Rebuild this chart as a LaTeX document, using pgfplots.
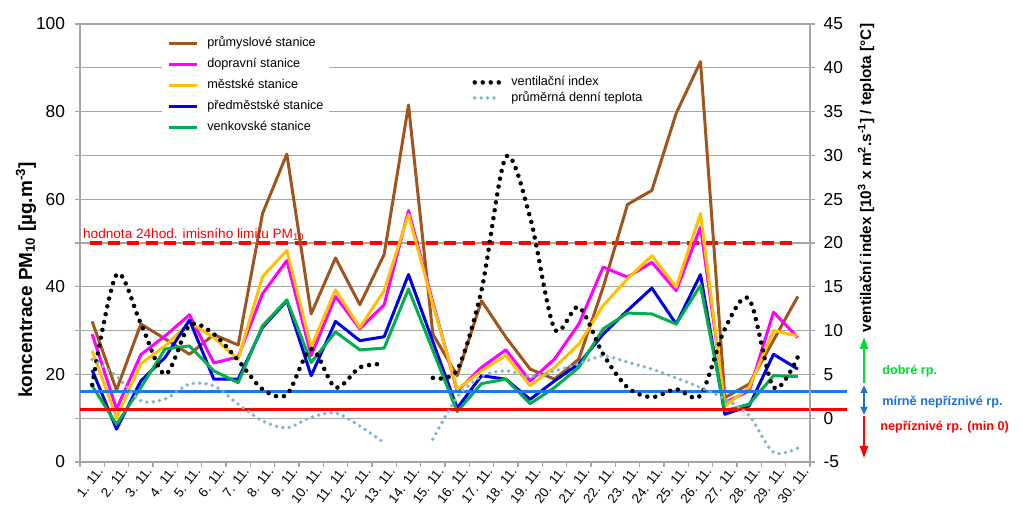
\documentclass[border=0pt]{standalone}
\usepackage{pgfplots}
\pgfplotsset{compat=1.18}
\usepackage{pgfplotstable}
\usepackage{fontspec}
\setmainfont{Liberation Sans}
\usetikzlibrary{arrows.meta}

\definecolor{cBrown}{RGB}{160,85,30}
\definecolor{cMag}{RGB}{255,0,255}
\definecolor{cYel}{RGB}{255,192,0}
\definecolor{cBlue}{RGB}{0,0,230}
\definecolor{cGreen}{RGB}{0,176,80}
\definecolor{cTemp}{RGB}{130,180,205}
\definecolor{cHBlue}{RGB}{30,120,240}
\definecolor{cGrid}{RGB}{165,165,165}
\definecolor{cArrGreen}{RGB}{0,220,50}
\definecolor{cArrBlue}{RGB}{30,110,220}

\pgfplotstableread{
day prum dop mest pred venk
1 32.1 29.2 25.4 21.0 17.4
2 16.4 12.1 10.1 7.5 8.6
3 31.5 24.5 22.4 18.5 17.0
4 28.1 28.8 26.5 23.9 25.8
5 24.6 33.6 31.9 32.4 26.5
6 29.1 22.6 28.4 18.9 20.8
7 26.7 24.0 23.5 18.9 18.1
8 56.7 38.4 42.3 30.7 31.1
9 70.3 46.0 48.3 36.8 37.0
10 33.8 24.3 26.2 19.7 22.7
11 46.6 37.8 39.3 32.1 29.7
12 35.9 30.4 30.7 27.7 25.6
13 47.4 35.9 39.1 28.6 26.0
14 81.5 57.4 56.5 42.8 39.5
15 29.2 36.5 36.0 27.5 25.5
16 19.7 16.2 16.6 12.3 11.5
17 36.8 21.6 20.8 19.7 17.9
18 28.5 25.6 24.3 18.9 18.9
19 21.2 18.5 17.4 14.3 13.3
20 18.9 23.5 21.6 18.5 17.0
21 23.5 31.5 26.9 22.4 21.6
22 39.9 44.5 35.7 29.2 30.4
23 58.8 42.2 41.8 34.6 34.0
24 62.0 45.6 47.1 39.7 33.8
25 79.6 39.1 39.9 31.5 31.5
26 91.4 53.6 56.7 42.8 40.3
27 14.7 13.6 12.8 10.9 11.7
28 17.8 16.2 17.0 12.8 13.2
29 27.8 34.2 30.0 24.6 19.7
30 37.8 28.4 28.8 21.2 19.5
}\conc

\pgfplotstableread{
day v
1 3.8
2 16.4
3 10.8
4 5.0
5 10.6
6 9.6
7 6.6
8 3.3
9 2.7
10 7.9
11 3.5
12 5.8
13 6.2
}\ventA

\pgfplotstableread{
day v
15 4.6
16 5.5
17 14.6
18 29.8
19 22.9
20 10.2
21 12.7
22 7.3
23 3.5
24 2.4
25 3.3
26 2.6
27 10.2
28 13.6
29 3.5
30 7.0
}\ventB

\pgfplotstableread{
day t
1 6.7
2 4.8
3 2.0
4 2.2
5 3.9
6 3.7
7 1.6
8 -0.3
9 -1.1
10 0.1
11 0.6
12 -0.9
13 -2.8
}\tempA

\pgfplotstableread{
day t
15 -2.4
16 2.4
17 4.8
18 5.4
19 4.8
20 5.4
21 6.2
22 7.1
23 6.4
24 5.6
25 4.6
26 3.5
27 2.2
28 0.3
29 -3.9
30 -3.4
}\tempB

\begin{document}
\begin{tikzpicture}[x=0.75pt,y=0.75pt]
\useasboundingbox (0,0) rectangle (1023,527);

\begin{axis}[
  at={(60pt,48.75pt)}, anchor=south west,
  scale only axis, width=547.5pt, height=328.5pt,
  xmin=0.5, xmax=30.5, ymin=0, ymax=100,
  clip=false,
  axis x line*=bottom, axis y line*=left,
  axis line style={cGrid, line width=1pt, -},
  tick align=outside, major tick length=3.75pt,
  tick style={cGrid, line width=1pt},
  ytick={0,10,...,100},
  yticklabels={0,,20,,40,,60,,80,,100},
  ymajorgrids, grid style={cGrid, line width=1pt},
  xtick={0.5,1.5,...,30.5}, xticklabels={},
  extra x ticks={1,...,30},
  extra x tick labels={1. 11.,2. 11.,3. 11.,4. 11.,5. 11.,6. 11.,7. 11.,8. 11.,9. 11.,10. 11.,11. 11.,12. 11.,13. 11.,14. 11.,15. 11.,16. 11.,17. 11.,18. 11.,19. 11.,20. 11.,21. 11.,22. 11.,23. 11.,24. 11.,25. 11.,26. 11.,27. 11.,28. 11.,29. 11.,30. 11.},
  extra x tick style={major tick length=0pt,
    xticklabel style={font=\fontsize{10}{12}\selectfont, rotate=52, anchor=east, xshift=3pt, yshift=-8pt}},
  yticklabel style={font=\fontsize{13}{15}\selectfont, xshift=-4pt},
  /pgf/number format/assume math mode=true,
  legend cell align=left,
  legend image code/.code={\draw[#1] (0pt,0pt) -- (21pt,0pt);},
  legend style={at={(axis description cs:0.112,0.982)}, anchor=north west,
    draw=none, fill=white, inner xsep=4pt, inner ysep=4pt,
    font=\fontsize{9.5}{11}\selectfont, row sep=6.75pt, column sep=6.75pt,
    nodes={inner sep=0pt, text height=7pt, text depth=2pt, anchor=west}},
]
\addplot[red, line width=2.4pt, dash pattern=on 9pt off 5pt, forget plot] coordinates {(0.9,50) (29.9,50)};
\addplot[cBrown, line width=2.25pt, line join=round] table[x=day, y=prum]{\conc};
\addlegendentry{průmyslové stanice}
\addplot[cMag, line width=2.25pt, line join=round] table[x=day, y=dop]{\conc};
\addlegendentry{dopravní stanice}
\addplot[cYel, line width=2.25pt, line join=round] table[x=day, y=mest]{\conc};
\addlegendentry{městské stanice}
\addplot[cBlue, line width=2.25pt, line join=round] table[x=day, y=pred]{\conc};
\addlegendentry{předměstské stanice}
\addplot[cGreen, line width=2.25pt, line join=round] table[x=day, y=venk]{\conc};
\addlegendentry{venkovské stanice}
\addplot[cHBlue, line width=2.25pt, forget plot] coordinates {(0.5,16) (32.02,16)};
\addplot[red, line width=2.25pt, forget plot] coordinates {(0.5,12) (32.02,12)};
\node[anchor=base west, inner sep=0pt, text=red, font=\fontsize{10.2}{12}\selectfont] at (axis cs:0.62,51.0) {hodnota 24hod. imisního limitu PM\textsubscript{10}};
\end{axis}

\begin{axis}[
  at={(60pt,48.75pt)}, anchor=south west,
  scale only axis, width=547.5pt, height=328.5pt,
  xmin=0.5, xmax=30.5, ymin=-5, ymax=45,
  axis x line=none, axis y line*=right,
  axis line style={cGrid, line width=1pt, -},
  tick align=outside, major tick length=3.75pt,
  tick style={cGrid, line width=1pt},
  ytick={-5,0,...,45},
  yticklabel style={font=\fontsize{13}{15}\selectfont, xshift=3pt},
  /pgf/number format/assume math mode=true,
  legend cell align=left,
  legend image code/.code={\draw[#1] (0pt,0pt) -- (19pt,0pt);},
  legend style={at={(axis description cs:0.530,0.890)}, anchor=north west,
    draw=none, fill=white, inner xsep=4pt, inner ysep=3pt,
    font=\fontsize{9.5}{11}\selectfont, row sep=2.6pt, column sep=6.75pt,
    nodes={inner sep=0pt, text height=7pt, text depth=2pt, anchor=west}},
]
\addplot[black, line width=3.4pt, line cap=round, dash pattern=on 0pt off 6pt, smooth] table[x=day, y=v]{\ventA};
\addlegendentry{ventilační index}
\addplot[black, line width=3.4pt, line cap=round, dash pattern=on 0pt off 6pt, smooth, forget plot] table[x=day, y=v]{\ventB};
\addplot[cTemp, line width=2.9pt, line cap=round, dash pattern=on 0pt off 4.8pt, smooth] table[x=day, y=t]{\tempA};
\addlegendentry{průměrná denní teplota}
\addplot[cTemp, line width=2.9pt, line cap=round, dash pattern=on 0pt off 4.8pt, smooth, forget plot] table[x=day, y=t]{\tempB};
\end{axis}

\node[rotate=90, font=\bfseries\fontsize{14.2}{16}\selectfont] at (26,247) {koncentrace PM\textsubscript{10} [µg.m\textsuperscript{-3}]};
\node[rotate=90, font=\bfseries\fontsize{11.5}{14}\selectfont] at (866,349) {ventilační index [10\textsuperscript{3} x m\textsuperscript{2}.s\textsuperscript{-1}] / teplota [°C]};

\draw[cArrGreen, line width=1.5pt, -{Triangle[length=9pt,width=6pt]}] (864,144) -- (864,190);
\draw[cArrBlue, line width=1.5pt, {Triangle[length=6pt,width=5pt]}-{Triangle[length=6pt,width=5pt]}] (864,142) -- (864,112);
\draw[red, line width=1.5pt, -{Triangle[length=9pt,width=6pt]}] (864,111) -- (864,69);

\node[anchor=west, inner sep=0pt, text=cArrGreen, font=\bfseries\fontsize{9.5}{11}\selectfont] at (882,156) {dobré rp.};
\node[anchor=west, inner sep=0pt, text=cArrBlue, font=\bfseries\fontsize{9.5}{11}\selectfont] at (882,125) {mírně nepříznivé rp.};
\node[anchor=west, inner sep=0pt, text=red, font=\bfseries\fontsize{9.5}{11}\selectfont] at (880,100) {nepříznivé rp. (min 0)};
\end{tikzpicture}
\end{document}
